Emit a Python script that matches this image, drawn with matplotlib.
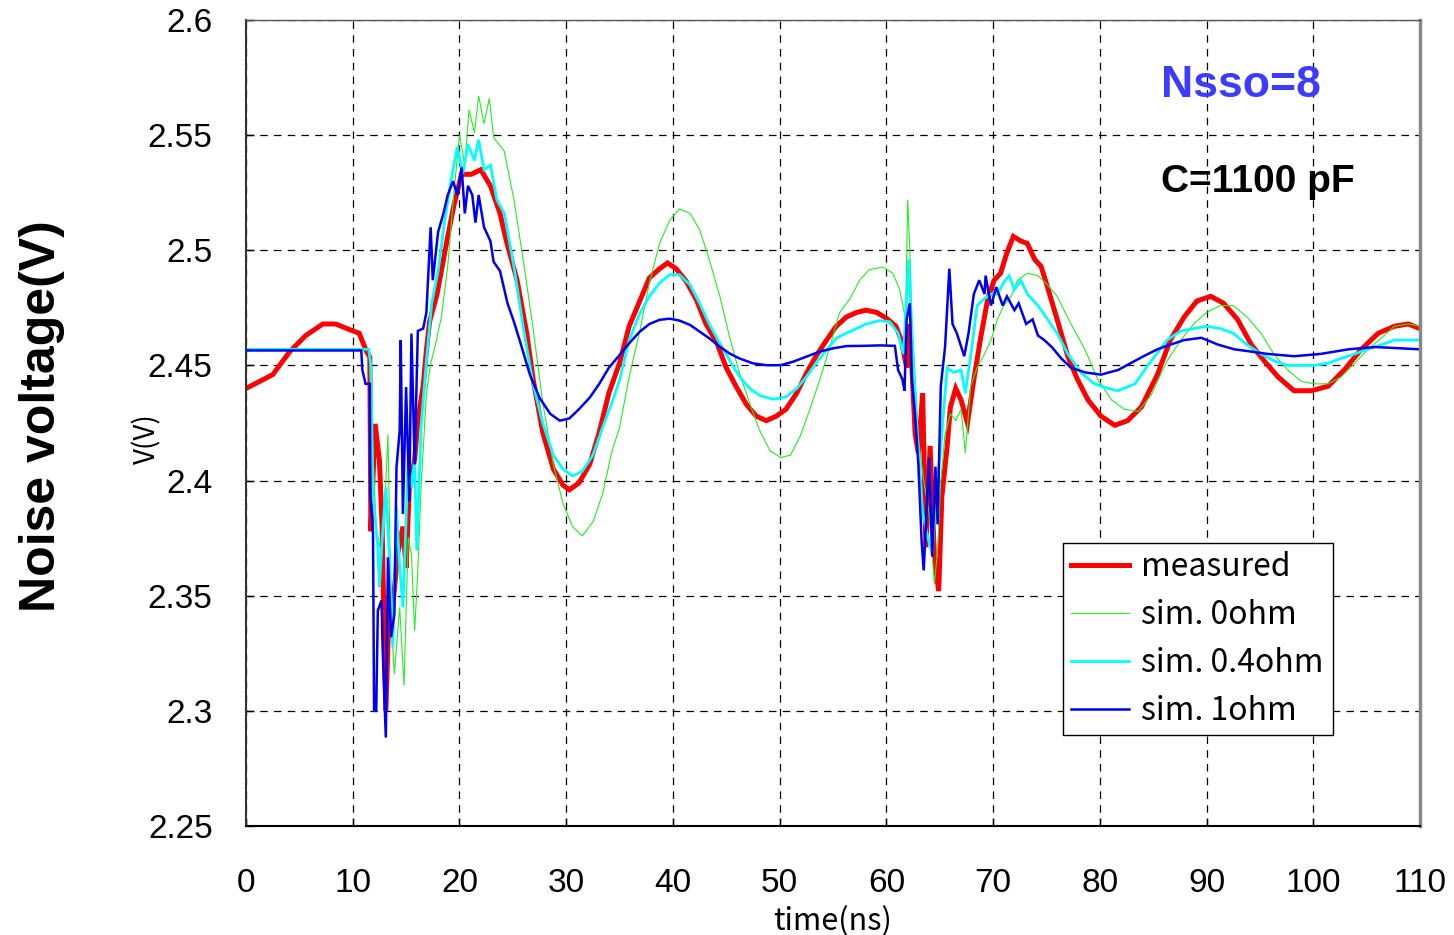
import matplotlib
matplotlib.use("Agg")
import matplotlib.pyplot as plt
import matplotlib.font_manager as fm
import numpy as np

# ---- data (time in ns, voltage in V) ----
measured = [
    (0, 2.440), (2.5, 2.446), (4.1, 2.456), (5.6, 2.463), (7.2, 2.468), (8.4, 2.468),
    (10.0, 2.465), (10.6, 2.464), (11.25, 2.4565), (11.6, 2.4536), (11.7, 2.378),
    (12.1, 2.4246), (12.5, 2.4087), (12.75, 2.380), (13.1, 2.300), (13.4, 2.3435),
    (13.75, 2.345), (14.2, 2.368), (14.7, 2.380), (15.0, 2.362), (15.3, 2.397),
    (15.8, 2.409), (16.1, 2.426), (16.6, 2.441), (16.9, 2.4565), (17.2, 2.469),
    (17.9, 2.481), (18.9, 2.506), (19.5, 2.520), (20.2, 2.533), (21.1, 2.533),
    (22.0, 2.535), (22.9, 2.528), (23.8, 2.516), (24.4, 2.504), (25.4, 2.487),
    (26.3, 2.464), (26.9, 2.444), (27.8, 2.421), (28.8, 2.405), (29.7, 2.398),
    (30.3, 2.396), (31.2, 2.399), (32.2, 2.407), (33.1, 2.421), (34.0, 2.438),
    (35.0, 2.451), (35.9, 2.467), (36.9, 2.478), (37.8, 2.488), (38.75, 2.492),
    (39.5, 2.4945), (40.3, 2.492), (41.25, 2.4865), (42.2, 2.4785), (43.1, 2.468),
    (44.1, 2.460), (45.0, 2.449), (45.9, 2.441), (46.9, 2.433), (47.8, 2.428),
    (48.75, 2.426), (49.7, 2.428), (50.6, 2.431), (51.6, 2.438), (52.5, 2.4465),
    (53.4, 2.454), (54.4, 2.461), (55.3, 2.467), (56.25, 2.471), (57.2, 2.473),
    (58.1, 2.474), (59.1, 2.473), (60.0, 2.4705), (60.9, 2.467), (61.4, 2.461),
    (61.9, 2.449), (62.2, 2.468), (62.7, 2.420), (63.0, 2.412), (63.4, 2.438),
    (63.7, 2.371), (64.1, 2.415), (64.5, 2.367), (64.9, 2.352), (65.2, 2.393),
    (65.7, 2.415), (66.0, 2.432), (66.5, 2.440), (67.0, 2.435), (67.6, 2.425),
    (68.2, 2.444), (68.8, 2.461), (69.5, 2.479), (70.1, 2.487), (70.7, 2.490),
    (71.3, 2.499), (71.9, 2.506), (72.6, 2.504), (73.2, 2.503), (73.9, 2.496),
    (74.5, 2.493), (75.1, 2.484), (76.0, 2.470), (77.0, 2.454), (77.9, 2.444),
    (78.9, 2.435), (80.1, 2.428), (81.4, 2.424), (82.6, 2.426), (83.9, 2.432),
    (85.4, 2.446), (86.6, 2.461), (87.9, 2.471), (89.1, 2.478), (90.4, 2.480),
    (91.6, 2.477), (92.9, 2.470), (94.2, 2.459), (95.4, 2.452), (96.7, 2.445),
    (98.2, 2.439), (99.8, 2.439), (101.4, 2.441), (102.9, 2.448), (104.5, 2.457),
    (106.1, 2.464), (107.6, 2.467), (108.9, 2.468), (110.0, 2.466),
]

sim_0ohm = [
    (0, 2.457), (11.5, 2.457), (11.6, 2.450), (11.9, 2.4116), (12.2, 2.379),
    (12.7, 2.368), (13.0, 2.390), (13.3, 2.420), (13.6, 2.339), (13.9, 2.316),
    (14.4, 2.345), (14.8, 2.311), (15.2, 2.3754), (15.5, 2.368), (15.8, 2.3348),
    (16.1, 2.361), (16.4, 2.397), (16.9, 2.4377), (17.3, 2.4507), (17.7, 2.458),
    (18.3, 2.471), (18.9, 2.493), (19.5, 2.526), (20.0, 2.550), (20.5, 2.537),
    (20.9, 2.561), (21.4, 2.551), (21.8, 2.567), (22.3, 2.555), (22.8, 2.566),
    (23.2, 2.549), (24.2, 2.543), (25.1, 2.522), (26.0, 2.495), (26.9, 2.466),
    (27.8, 2.434), (28.8, 2.407), (29.7, 2.390), (30.6, 2.380), (31.5, 2.376),
    (32.5, 2.382), (33.4, 2.394), (34.3, 2.413), (35.0, 2.423), (35.9, 2.445),
    (36.9, 2.465), (37.8, 2.486), (38.75, 2.503), (39.7, 2.513), (40.6, 2.518),
    (41.6, 2.516), (42.5, 2.509), (43.4, 2.496), (44.4, 2.480), (45.3, 2.4625),
    (46.25, 2.4465), (47.2, 2.4335), (48.1, 2.422), (49.1, 2.413), (50.1, 2.410),
    (51.0, 2.411), (51.9, 2.419), (52.8, 2.4305), (53.75, 2.4436), (54.7, 2.458),
    (55.6, 2.4727), (56.6, 2.479), (57.5, 2.487), (58.4, 2.4916), (59.7, 2.4927),
    (60.6, 2.490), (61.25, 2.483), (61.8, 2.470), (62.0, 2.522), (62.2, 2.500),
    (62.4, 2.470), (62.7, 2.444), (63.0, 2.418), (63.5, 2.400), (64.0, 2.386),
    (64.5, 2.355), (64.8, 2.370), (65.1, 2.400), (65.5, 2.420), (66.0, 2.429),
    (66.5, 2.426), (67.0, 2.431), (67.4, 2.412), (67.9, 2.441), (68.5, 2.449),
    (69.2, 2.455), (69.8, 2.461), (70.4, 2.470), (71.0, 2.476), (71.7, 2.480),
    (72.3, 2.487), (73.2, 2.490), (74.2, 2.489), (75.1, 2.485), (76.0, 2.480),
    (77.3, 2.468), (78.6, 2.457), (79.8, 2.444), (81.1, 2.435), (82.3, 2.431),
    (83.6, 2.430), (84.8, 2.437), (86.3, 2.452), (87.6, 2.461), (88.8, 2.468),
    (90.0, 2.473), (91.3, 2.476), (92.5, 2.476), (93.8, 2.471), (95.1, 2.464),
    (96.3, 2.455), (97.6, 2.448), (98.9, 2.443), (100.1, 2.442), (101.4, 2.442),
    (102.6, 2.445), (103.9, 2.451), (105.1, 2.457), (106.4, 2.462), (107.6, 2.467),
    (108.9, 2.468), (110.0, 2.467),
]

sim_04ohm = [
    (0, 2.457), (11.5, 2.457), (11.7, 2.450), (11.9, 2.394), (12.35, 2.371),
    (12.5, 2.3536), (12.75, 2.374), (13.1, 2.397), (13.4, 2.3696), (13.75, 2.3275),
    (14.1, 2.3884), (14.4, 2.3623), (14.7, 2.345), (15.2, 2.4087), (15.5, 2.397),
    (15.8, 2.409), (16.0, 2.3696), (16.4, 2.4232), (16.9, 2.452), (17.4, 2.477),
    (18.0, 2.491), (18.6, 2.512), (19.2, 2.530), (19.8, 2.545), (20.3, 2.533),
    (20.8, 2.546), (21.4, 2.539), (21.8, 2.548), (22.3, 2.535), (22.9, 2.537),
    (23.5, 2.522), (24.2, 2.516), (25.1, 2.493), (26.0, 2.466), (26.9, 2.442),
    (27.8, 2.425), (28.8, 2.411), (29.7, 2.405), (30.6, 2.402), (31.5, 2.404),
    (32.5, 2.411), (33.4, 2.423), (34.3, 2.434), (35.0, 2.4436), (35.9, 2.461),
    (36.9, 2.4727), (37.8, 2.480), (38.75, 2.4858), (39.7, 2.4894), (40.6, 2.4894),
    (41.6, 2.485), (42.5, 2.477), (43.4, 2.468), (44.4, 2.4596), (45.3, 2.4523),
    (46.25, 2.445), (47.2, 2.440), (48.1, 2.437), (49.4, 2.4353), (50.6, 2.4363),
    (51.6, 2.440), (52.5, 2.445), (53.4, 2.451), (54.4, 2.4567), (55.3, 2.4618),
    (56.25, 2.464), (57.2, 2.466), (58.1, 2.468), (59.4, 2.4695), (60.3, 2.469),
    (61.1, 2.464), (61.6, 2.455), (62.1, 2.496), (62.4, 2.461), (62.9, 2.420),
    (63.4, 2.386), (63.8, 2.377), (64.3, 2.368), (64.6, 2.391), (65.1, 2.415),
    (65.7, 2.449), (66.3, 2.447), (67.0, 2.448), (67.4, 2.438), (67.9, 2.454),
    (68.5, 2.476), (69.2, 2.479), (69.8, 2.481), (70.4, 2.481), (71.0, 2.486),
    (71.5, 2.489), (72.0, 2.483), (72.6, 2.487), (73.2, 2.481), (74.2, 2.476),
    (75.1, 2.470), (76.0, 2.464), (77.0, 2.455), (78.2, 2.447), (79.5, 2.442),
    (80.8, 2.440), (81.7, 2.439), (83.3, 2.442), (84.5, 2.450), (86.3, 2.461),
    (87.6, 2.465), (88.8, 2.466), (90.0, 2.467), (91.3, 2.466), (92.5, 2.464),
    (93.8, 2.459), (95.1, 2.455), (96.3, 2.452), (97.6, 2.450), (98.9, 2.450),
    (100.1, 2.450), (101.4, 2.451), (102.6, 2.453), (103.9, 2.455), (105.1, 2.457),
    (106.4, 2.459), (107.6, 2.461), (110.0, 2.461),
]

sim_1ohm = [
    (0, 2.4565), (10.8, 2.4565), (10.9, 2.448), (11.2, 2.442), (11.6, 2.442),
    (11.65, 2.394), (11.9, 2.3768), (12.0, 2.300), (12.2, 2.300), (12.35, 2.3435),
    (12.7, 2.348), (12.8, 2.3275), (13.1, 2.2884), (13.3, 2.3667), (13.6, 2.332),
    (13.9, 2.342), (14.1, 2.4058), (14.4, 2.4217), (14.5, 2.461), (14.7, 2.3855),
    (15.0, 2.4406), (15.3, 2.391), (15.5, 2.4638), (15.8, 2.407), (16.1, 2.465),
    (16.6, 2.466), (16.9, 2.473), (17.3, 2.510), (17.5, 2.487), (18.0, 2.508),
    (18.5, 2.516), (18.9, 2.524), (19.4, 2.530), (19.8, 2.524), (20.2, 2.536),
    (20.5, 2.516), (20.8, 2.528), (21.2, 2.524), (21.5, 2.512), (21.8, 2.524),
    (22.3, 2.510), (22.9, 2.504), (23.2, 2.495), (23.8, 2.491), (24.5, 2.477),
    (25.1, 2.469), (25.7, 2.460), (26.6, 2.446), (27.5, 2.436), (28.5, 2.429),
    (29.4, 2.426), (30.3, 2.427), (31.2, 2.431), (32.2, 2.436), (33.1, 2.442),
    (34.0, 2.449), (35.0, 2.4545), (35.9, 2.4596), (36.9, 2.4647), (37.8, 2.468),
    (38.75, 2.4698), (39.7, 2.4703), (40.6, 2.4695), (41.6, 2.4676), (42.5, 2.4647),
    (43.4, 2.4618), (44.4, 2.4581), (45.3, 2.4552), (46.25, 2.453), (47.5, 2.4509),
    (48.75, 2.4501), (50.1, 2.4501), (51.25, 2.4516), (52.5, 2.4538), (53.75, 2.456),
    (55.0, 2.4574), (56.25, 2.4584), (57.8, 2.4585), (59.4, 2.4587), (60.8, 2.4585),
    (61.1, 2.448), (61.5, 2.444), (61.7, 2.439), (61.9, 2.470), (62.2, 2.477),
    (62.4, 2.444), (62.7, 2.428), (63.0, 2.407), (63.3, 2.374), (63.5, 2.361),
    (63.8, 2.391), (64.0, 2.410), (64.3, 2.367), (64.6, 2.406), (64.8, 2.381),
    (65.1, 2.441), (65.5, 2.458), (65.9, 2.492), (66.2, 2.468), (66.6, 2.464),
    (67.3, 2.454), (67.7, 2.464), (68.2, 2.481), (68.7, 2.487), (69.2, 2.481),
    (69.3, 2.489), (69.8, 2.476), (70.3, 2.484), (70.9, 2.476), (71.3, 2.480),
    (72.0, 2.474), (72.4, 2.477), (73.1, 2.468), (73.7, 2.470), (74.2, 2.463),
    (74.8, 2.461), (75.5, 2.458), (76.4, 2.453), (77.3, 2.449), (78.6, 2.447),
    (80.1, 2.446), (81.7, 2.448), (82.9, 2.451), (84.1, 2.454), (85.4, 2.457),
    (86.6, 2.459), (87.9, 2.461), (89.5, 2.462), (91.1, 2.459), (92.6, 2.457),
    (94.2, 2.456), (95.7, 2.455), (98.2, 2.454), (100.7, 2.455), (103.3, 2.457),
    (105.8, 2.458), (110.0, 2.457),
]

x_ticks = [0, 10, 20, 30, 40, 50, 60, 70, 80, 90, 100, 110]
y_ticks = [2.25, 2.3, 2.35, 2.4, 2.45, 2.5, 2.55, 2.6]
y_tick_labels = ["2.25", "2.3", "2.35", "2.4", "2.45", "2.5", "2.55", "2.6"]

# ---- fonts ----
names = {f.name for f in fm.fontManager.ttflist}
narrow = "Liberation Sans Narrow" if "Liberation Sans Narrow" in names else "Liberation Sans"
JP = ["Noto Sans CJK JP", "DejaVu Sans"]
SANS = ["Liberation Sans", "DejaVu Sans"]

fig = plt.figure(figsize=(14.54, 9.35), dpi=100)
ax = fig.add_axes([0.1692, 0.1166, 0.8074, 0.862])

series = [
    (measured, "measured", "#ff0000", 3.6),
    (sim_0ohm, "sim. 0ohm", "#22ee22", 0.8),
    (sim_04ohm, "sim. 0.4ohm", "#00ffff", 2.0),
    (sim_1ohm, "sim. 1ohm", "#0000ee", 1.8),
]
for pts, label, color, lw in series:
    arr = np.array(pts)
    ax.plot(arr[:, 0], arr[:, 1], color=color, lw=lw, label=label,
            solid_joinstyle="miter")

ax.set_xlim(0, 110)
ax.set_ylim(2.25, 2.6)
ax.set_xticks(x_ticks)
ax.set_yticks(y_ticks)
ax.set_yticklabels(y_tick_labels)
ax.grid(True, color="black", linestyle=(0, (6, 5)), linewidth=0.9)
ax.tick_params(axis="both", direction="in", length=6, width=1, labelsize=24)
ax.tick_params(axis="x", pad=30)
ax.tick_params(axis="y", pad=24)
for lab in ax.get_xticklabels() + ax.get_yticklabels():
    lab.set_family(SANS)

ax.spines["left"].set_color("#333333")
ax.spines["left"].set_linewidth(1.5)
ax.spines["bottom"].set_color("black")
ax.spines["bottom"].set_linewidth(1.5)
ax.spines["right"].set_color("#888888")
ax.spines["right"].set_linewidth(2.5)
ax.spines["top"].set_color("#555555")
ax.spines["top"].set_linewidth(1.0)

ax.set_xlabel("time(ns)", family=JP, fontsize=22, labelpad=5)
ax.set_ylabel("V(V)", family=JP, fontsize=20)
ax.yaxis.set_label_coords(-0.071, 0.48)

fig.text(0.029, 0.555, "Noise voltage(V)", rotation=90, ha="center", va="center",
         family=[narrow, "DejaVu Sans"], fontweight="bold", fontsize=36)

ax.text(0.779, 0.905, "Nsso=8", transform=ax.transAxes, color="#3c3cff",
        family=SANS, fontweight="bold", fontsize=32, va="baseline")
ax.text(0.779, 0.787, "C=1100 pF", transform=ax.transAxes, color="black",
        family=SANS, fontweight="bold", fontsize=28, va="baseline")

leg = ax.legend(loc="lower left", bbox_to_anchor=(0.696, 0.113, 0.23, 0.242),
                mode="expand", prop={"family": JP, "size": 23}, frameon=True,
                fancybox=False, framealpha=1, edgecolor="black",
                handlelength=1.8, handletextpad=0.4, labelspacing=0.5,
                borderpad=0.25, borderaxespad=0)
leg.get_frame().set_linewidth(1.0)

fig.savefig("out.png", dpi=100)
